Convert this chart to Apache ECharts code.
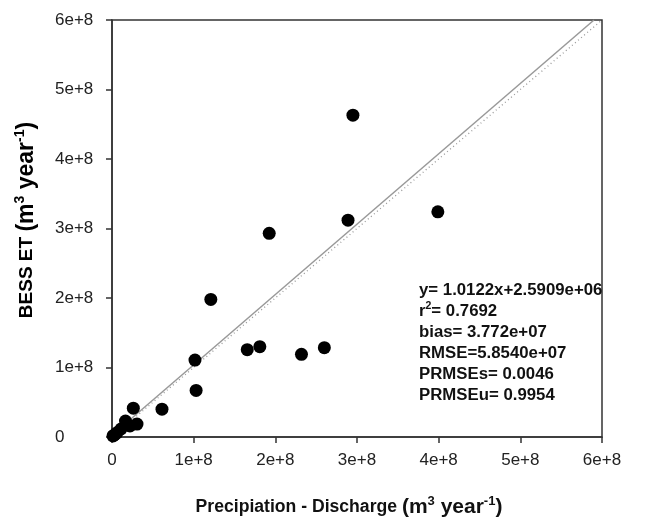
<!DOCTYPE html>
<html><head><meta charset="utf-8">
<script src="https://cdn.jsdelivr.net/npm/echarts@6/dist/echarts.min.js"></script>
<style>html,body{margin:0;padding:0;background:#fff}#c{width:659px;height:523px}</style>
</head><body><div id="c"></div>
<script>
// Observed (x = Precipitation - Discharge, y = BESS ET), m^3/year
const obsX = [2.95e8, 2.89e8, 1.925e8, 3.99e8, 1.21e8, 1.016e8, 1.03e8, 0.612e8, 1.656e8, 1.81e8, 2.32e8, 2.60e8,
              0.261e8, 0.165e8, 0.306e8, 0.22e8, 0.11e8, 0.06e8, 0.012e8, 0.03e8];
const obsY = [4.63e8, 3.12e8, 2.93e8, 3.24e8, 1.98e8, 1.107e8, 0.67e8, 0.40e8, 1.256e8, 1.30e8, 1.19e8, 1.285e8,
              0.415e8, 0.23e8, 0.186e8, 0.16e8, 0.115e8, 0.06e8, 0.015e8, 0.03e8];
const slope = 1.0122, intercept = 2.5909e6;
const axisMax = 6e8;
const statsLines = [
  ['y= 1.0122x+2.5909e+06'],
  ['r', '2', '= 0.7692'],
  ['bias= 3.772e+07'],
  ['RMSE=5.8540e+07'],
  ['PRMSEs= 0.0046'],
  ['PRMSEu= 0.9954']
];

const fmt = v => v === 0 ? '0' : (v / 1e8) + 'e+8';
const fitLine = [[0, intercept], [(axisMax - intercept) / slope, axisMax]];
const oneToOne = [[0, 0], [axisMax, axisMax]];

const FONT = '"Liberation Sans", Arial, sans-serif';
const chart = echarts.init(document.getElementById('c'));

const statsRich = {
  n: {fontSize: 16.8, fontWeight: 'bold', fontFamily: FONT, color: '#111'},
  sup: {fontSize: 10.5, fontWeight: 'bold', fontFamily: FONT, color: '#111', verticalAlign: 'top', padding: [0,0,6,0]}
};
const statsText = statsLines.map(l => l.length === 1 ? '{n|' + l[0] + '}' : '{n|' + l[0] + '}{sup|' + l[1] + '}{n|' + l[2] + '}').join('\n');

const titleRich = (t, u, s) => ({
  t: {fontSize: t, fontWeight: 'bold', fontFamily: FONT, color: '#111'},
  u: {fontSize: u, fontWeight: 'bold', fontFamily: FONT, color: '#111'},
  s: {fontSize: s, fontWeight: 'bold', fontFamily: FONT, color: '#111', verticalAlign: 'top', padding: [0,0,Math.round(u*0.55),0]}
});

const axisCommon = {
  type: 'value', min: 0, max: axisMax, interval: 1e8,
  axisLine: {show: true, onZero: false, lineStyle: {color: '#333', width: 1.5}},
  axisTick: {show: true, inside: false, length: 6, lineStyle: {color: '#333', width: 1.5}},
  splitLine: {show: false},
  axisLabel: {formatter: fmt, color: '#222', fontSize: 17, fontFamily: FONT}
};

chart.setOption({
  animation: false,
  backgroundColor: '#fff',
  grid: {left: 112, right: 57, top: 20, bottom: 84, show: true, borderColor: '#333', borderWidth: 1.5, containLabel: false},
  xAxis: Object.assign({}, axisCommon, {
    axisLabel: Object.assign({}, axisCommon.axisLabel, {margin: 15}),
    name: '{t|Precipiation - Discharge }{u|(m}{s|3}{u| year}{s|-1}{u|)}',
    nameLocation: 'middle', nameGap: 58,
    nameTextStyle: {rich: titleRich(17.6, 21, 13), padding: [0, 16, 0, 0]}
  }),
  yAxis: Object.assign({}, axisCommon, {
    axisLabel: Object.assign({}, axisCommon.axisLabel, {margin: 57, align: 'left'})
  }),
  series: [
    {type: 'line', data: oneToOne, showSymbol: false, symbol: 'none', z: 1,
     lineStyle: {color: '#999', width: 1.3, type: [1, 3]}},
    {type: 'line', data: fitLine, showSymbol: false, symbol: 'none', z: 2,
     lineStyle: {color: '#999', width: 1.5}},
    {type: 'scatter', data: obsX.map((x, i) => [x, obsY[i]]), symbol: 'circle', symbolSize: 13, z: 3,
     itemStyle: {color: '#000', opacity: 1}}
  ],
  graphic: [{
    type: 'text', left: 419, top: 280, z: 10,
    style: {text: statsText, rich: statsRich, lineHeight: 21, fill: '#111'}
  }, {
    type: 'text', x: 27, y: 220, rotation: Math.PI / 2, z: 10,
    style: {text: '{t|BESS ET }{u|(m}{s|3}{u| year}{s|-1}{u|)}', rich: titleRich(19, 23, 14),
            align: 'center', verticalAlign: 'middle'}
  }]
});
</script></body></html>
